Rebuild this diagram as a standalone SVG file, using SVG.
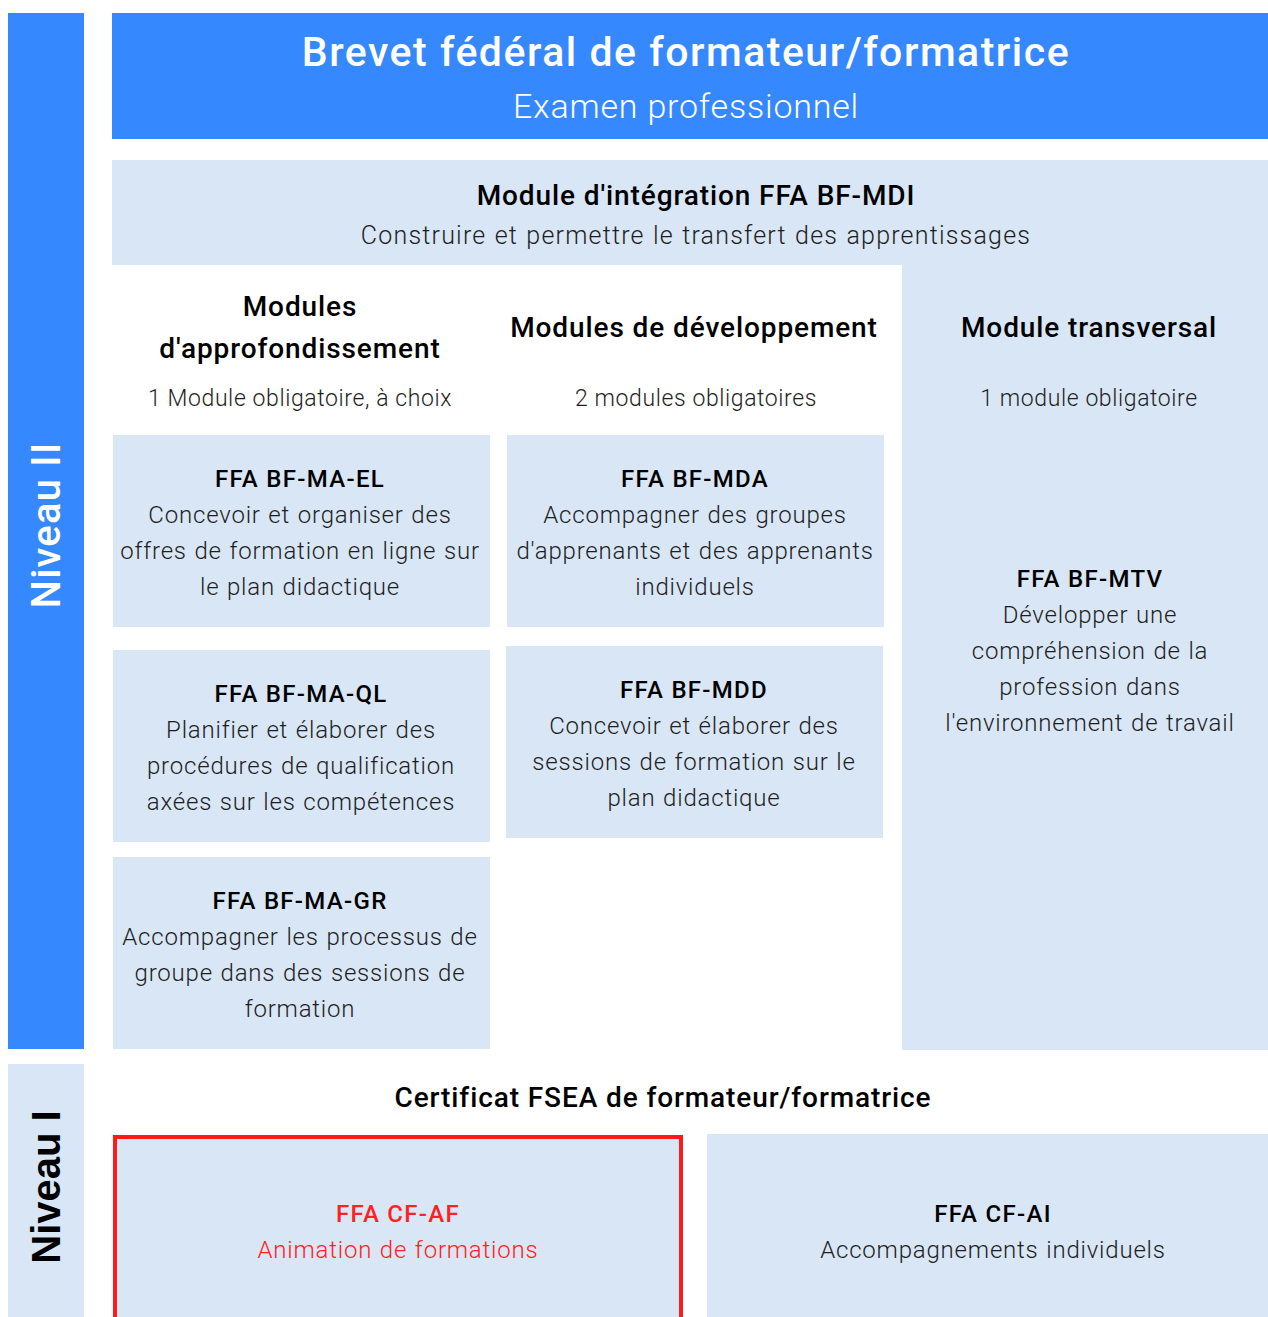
<svg xmlns="http://www.w3.org/2000/svg" width="1268" height="1317" viewBox="0 0 1268 1317">
<style>
.blue{fill:#3588FE}
.light{fill:#D9E6F6}
text{font-family:Roboto,"Liberation Sans",sans-serif;text-anchor:middle;fill:#1E1E1E}
.h{font-size:28px;font-weight:500;fill:#000;letter-spacing:0.9px}
.t{font-size:24px;font-weight:500;fill:#000;letter-spacing:1.3px}
.b{font-size:24px;font-weight:300;letter-spacing:0.8px;word-spacing:1px}
.s{font-size:23px;font-weight:300;letter-spacing:0.6px}
.red{fill:#FF2121}
</style>
<rect width="1268" height="1317" fill="#fff"/>
<g id="niveau2">
<rect class="blue" x="8" y="13" width="76" height="1036"/>
<text transform="translate(60,525) rotate(-90)" style="font-size:40px;font-weight:500;fill:#fff;letter-spacing:1.2px">Niveau II</text>
</g>
<g id="niveau1">
<rect class="light" x="8" y="1064" width="76" height="253"/>
<text transform="translate(60,1187) rotate(-90)" style="font-family:'Liberation Sans',Arial,sans-serif;font-size:40px;font-weight:700;fill:#000">Niveau I</text>
</g>
<g id="header">
<rect class="blue" x="112" y="13" width="1156" height="126"/>
<text x="686" y="66" style="font-size:41px;font-weight:500;fill:#fff;letter-spacing:1.5px">Brevet fédéral de formateur/formatrice</text>
<text x="686" y="118" style="font-size:34px;font-weight:300;fill:#fff;letter-spacing:0.8px">Examen professionnel</text>
</g>
<g id="mdi">
<rect class="light" x="112" y="160" width="1156" height="105"/>
<text class="h" x="696" y="205">Module d'intégration FFA BF-MDI</text>
<text x="696" y="244" style="font-size:25px;font-weight:300;letter-spacing:1.2px;word-spacing:1px">Construire et permettre le transfert des apprentissages</text>
</g>
<g id="col-approfondissement">
<text class="h" x="300" y="316">Modules</text>
<text class="h" x="300" y="358">d'approfondissement</text>
<text class="s" x="300" y="406">1 Module obligatoire, à choix</text>
</g>
<g id="col-developpement">
<text class="h" x="694" y="337">Modules de développement</text>
<text class="s" x="696" y="406">2 modules obligatoires</text>
</g>
<g id="mtv">
<rect class="light" x="902" y="265" width="366" height="785"/>
<text class="h" x="1089" y="337">Module transversal</text>
<text class="s" x="1089" y="406">1 module obligatoire</text>
<text class="t" x="1090" y="587">FFA BF-MTV</text>
<text class="b" x="1090" y="623">Développer une</text>
<text class="b" x="1090" y="659">compréhension de la</text>
<text class="b" x="1090" y="695">profession dans</text>
<text class="b" x="1090" y="731">l'environnement de travail</text>
</g>
<g id="ma-el">
<rect class="light" x="113" y="435" width="377" height="192"/>
<text class="t" x="300" y="487">FFA BF-MA-EL</text>
<text class="b" x="300" y="523">Concevoir et organiser des</text>
<text class="b" x="300" y="559">offres de formation en ligne sur</text>
<text class="b" x="300" y="595">le plan didactique</text>
</g>
<g id="mda">
<rect class="light" x="507" y="435" width="377" height="192"/>
<text class="t" x="695" y="487">FFA BF-MDA</text>
<text class="b" x="695" y="523">Accompagner des groupes</text>
<text class="b" x="695" y="559">d'apprenants et des apprenants</text>
<text class="b" x="695" y="595">individuels</text>
</g>
<g id="ma-ql">
<rect class="light" x="113" y="650" width="377" height="192"/>
<text class="t" x="301" y="702">FFA BF-MA-QL</text>
<text class="b" x="301" y="738">Planifier et élaborer des</text>
<text class="b" x="301" y="774">procédures de qualification</text>
<text class="b" x="301" y="810">axées sur les compétences</text>
</g>
<g id="mdd">
<rect class="light" x="506" y="646" width="377" height="192"/>
<text class="t" x="694" y="698">FFA BF-MDD</text>
<text class="b" x="694" y="734">Concevoir et élaborer des</text>
<text class="b" x="694" y="770">sessions de formation sur le</text>
<text class="b" x="694" y="806">plan didactique</text>
</g>
<g id="ma-gr">
<rect class="light" x="113" y="857" width="377" height="192"/>
<text class="t" x="300" y="909">FFA BF-MA-GR</text>
<text class="b" x="300" y="945">Accompagner les processus de</text>
<text class="b" x="300" y="981">groupe dans des sessions de</text>
<text class="b" x="300" y="1017">formation</text>
</g>
<g id="certificat">
<text class="h" x="663" y="1107">Certificat FSEA de formateur/formatrice</text>
</g>
<g id="cf-af">
<rect class="light" x="115" y="1137" width="566" height="190" stroke="#FF1A1A" stroke-width="4"/>
<text class="t red" x="398" y="1222">FFA CF-AF</text>
<text class="b red" x="398" y="1258">Animation de formations</text>
</g>
<g id="cf-ai">
<rect class="light" x="707" y="1134" width="561" height="183"/>
<text class="t" x="993" y="1222">FFA CF-AI</text>
<text class="b" x="993" y="1258">Accompagnements individuels</text>
</g>
<g id="connectors"/>
</svg>
